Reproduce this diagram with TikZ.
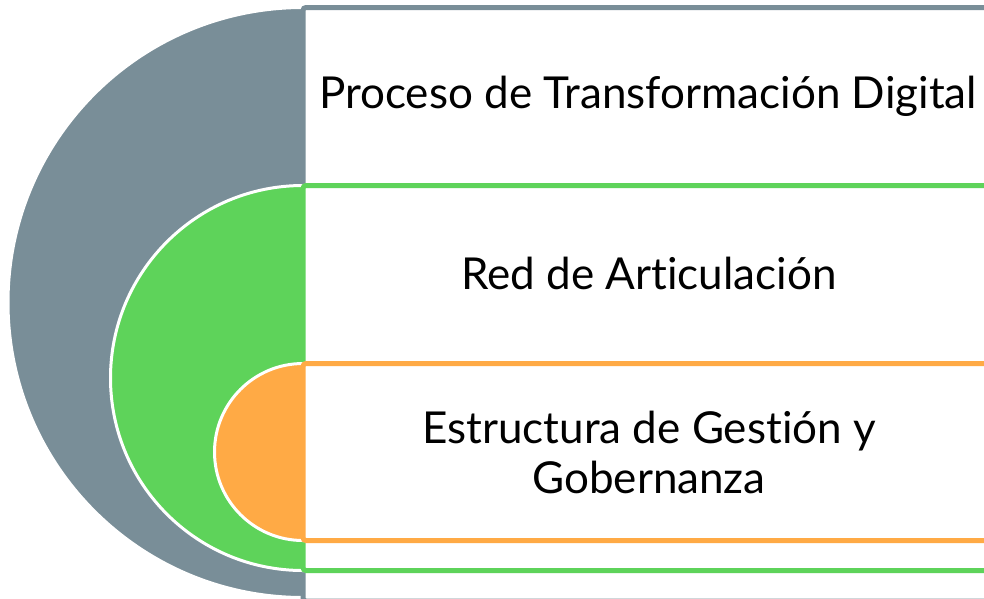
\documentclass[tikz,border=0pt]{standalone}
\usepackage{fontspec}
\setmainfont{Lato}[Ligatures={NoCommon}]
\definecolor{targetgray}{RGB}{121, 142, 152}
\definecolor{targetgreen}{RGB}{94, 211, 90}
\definecolor{targetorange}{RGB}{255, 170, 69}
\usetikzlibrary{calc}
\tikzset{
    halfdisc/.style={draw=white, line width=3pt},
    bandbox/.style={fill=white, line width=5pt, rounded corners=3pt},
    bandtext/.style={font=\fontsize{44}{50}\selectfont, align=center, text=black},
}

\begin{document}
\begin{tikzpicture}[x=1pt, y=-1pt]
    \clip (0,0) rectangle (984,598);
    \fill[white] (0,0) rectangle (984,598);
    % outer ring
    \filldraw[halfdisc, fill=targetgray] (303,7.5) arc[start angle=270, end angle=90, radius=295] -- cycle;
    \draw[bandbox, draw=targetgray] (303,7.5) rectangle (1000,601);
    % middle ring
    \filldraw[halfdisc, fill=targetgreen] (303,185.5) arc[start angle=270, end angle=90, radius=192.5] -- cycle;
    \draw[bandbox, draw=targetgreen] (303,185.5) rectangle (1000,570.5);
    % inner ring
    \filldraw[halfdisc, fill=targetorange] (303,363.5) arc[start angle=270, end angle=90, radius=88.5] -- cycle;
    \draw[bandbox, draw=targetorange] (303,363.5) rectangle (1000,540.5);
    % labels
    \node[bandtext] (proceso) at (648,96) {Proceso de Transformación Digital};
    \node[bandtext] (red) at (649,273) {Red de Articulación};
    \node[bandtext] (estructura) at (649,452) {Estructura de Gestión y\\Gobernanza};
\end{tikzpicture}
\end{document}
